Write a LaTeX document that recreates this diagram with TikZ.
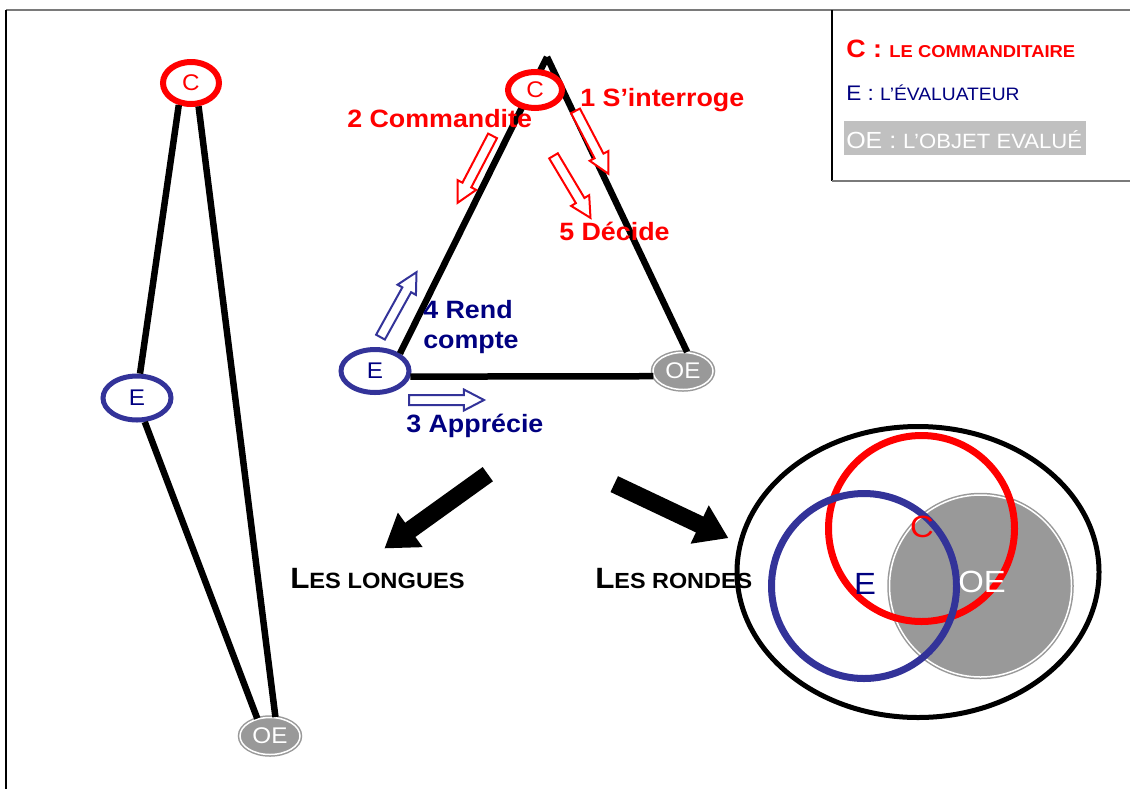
\documentclass[tikz,border=0pt]{standalone}
\usepackage{fontspec}
\setmainfont{Liberation Sans}[FakeStretch=1.07]
\usetikzlibrary{shapes.geometric,shapes.arrows}
\definecolor{cred}{HTML}{FF0000}
\definecolor{cnavy}{HTML}{000080}
\definecolor{cblue}{HTML}{333399}
\definecolor{cgray}{HTML}{999999}
\definecolor{clgray}{HTML}{C0C0C0}
\definecolor{cframe}{HTML}{7A7A7A}
\newcommand{\fsz}[1]{\fontsize{#1}{#1}\selectfont}
\begin{document}
\begin{tikzpicture}[x=0.75pt,y=-0.75pt,
  lbl/.style={anchor=base west, inner sep=0pt},
  redtxt/.style={lbl, text=cred, font=\bfseries\fsz{18.8}},
  navytxt/.style={lbl, text=cnavy, font=\bfseries\fsz{18.8}},
  cnode/.style={ellipse, draw=cred, line width=6*0.75pt, fill=white, text=cred, font=\fsz{17}, inner sep=0pt},
  enode/.style={ellipse, draw=cblue, line width=5*0.75pt, fill=white, text=cnavy, font=\fsz{17}, inner sep=0pt},
  oenode/.style={ellipse, draw=cgray, fill=cgray, double=white, double distance=1.5*0.75pt, line width=1.5*0.75pt, text=white, font=\fsz{17}, inner sep=0pt},
  edgeline/.style={line width=6.5*0.75pt, black},
  hollow/.style={single arrow, draw=#1, fill=white, line width=2*0.75pt, minimum width=0pt, inner xsep=0pt, inner ysep=4*0.75pt, single arrow head extend=5.5*0.75pt, single arrow tip angle=55, anchor=tail},
  bigarrow/.style={single arrow, fill=black, minimum width=0pt, inner xsep=0pt, inner ysep=8.5*0.75pt, single arrow head extend=12.5*0.75pt, single arrow tip angle=68, anchor=tail}
]
\useasboundingbox (0,0) rectangle (1130,789);
% frame
\draw[cframe, line width=2*0.75pt] (6,10) -- (1130,10);
\draw[black, line width=1.5*0.75pt] (6,10) -- (6,789);
% legend
\draw[black, line width=1.5*0.75pt] (832,10) -- (832,181);
\draw[cframe, line width=2*0.75pt] (832,181) -- (1130,181);
\node[lbl, text=cred, font=\bfseries] (legC) at (846,57) {\fsz{18.8}C : \fsz{12.9}LE COMMANDITAIRE};
\node[lbl, text=cnavy] (legE) at (846,100) {\fsz{15.8}E : \fsz{13.5}L’ÉVALUATEUR};
\fill[clgray] (844,121) rectangle (1086,155);
\node[lbl, text=white] (legO) at (846,148) {\fsz{17.5}OE : \fsz{15.5}L’OBJET EVALUÉ};

% left "longues" diagram
\node[cnode, minimum width=56*0.75pt, minimum height=42*0.75pt] (C1) at (191,83) {C};
\node[enode, minimum width=68*0.75pt, minimum height=44*0.75pt] (E1) at (137,398) {E};
\node[oenode, minimum width=60*0.75pt, minimum height=37*0.75pt] (OE1) at (270,736) {OE};
\draw[edgeline] (C1.241) -- (E1.83);
\draw[edgeline] (C1.288) -- (OE1.74);
\draw[edgeline] (E1.-72) -- (OE1.126);

% triangle
\coordinate (apex) at (547,57);
\node[enode, minimum width=68*0.75pt, minimum height=43*0.75pt] (E2) at (375,371) {E};
\node[oenode, minimum width=60*0.75pt, minimum height=37*0.75pt] (OE2) at (683,371) {OE};
\draw[edgeline] (apex) -- (E2.35);
\draw[edgeline] (apex) -- (OE2.78);
\draw[edgeline] (E2.-9) -- (OE2.190);
\node[cnode, minimum width=54*0.75pt, minimum height=36*0.75pt] (C2) at (535,90) {C};

% hollow arrows
\node[hollow=cred, minimum height=71*0.75pt, rotate=-62.4] (a1) at (575,110) {};
\node[hollow=cred, minimum height=75.6*0.75pt, rotate=-117.6] (a2) at (493,135) {};
\node[hollow=cred, minimum height=72.2*0.75pt, rotate=-59.2] (a5) at (553,155) {};
\node[hollow=cblue, minimum height=74.3*0.75pt, rotate=61] (a4) at (380,338) {};
\node[hollow=cblue, minimum height=75*0.75pt, rotate=0] (a3) at (408,400) {};

% labels
\node[redtxt] (t1) at (580,106) {1 S’interroge};
\node[redtxt] (t2) at (347,127) {2 Commandite};
\node[redtxt] (t5) at (559,240) {5 Décide};
\node[navytxt] (t4a) at (423,318) {4 Rend};
\node[navytxt] (t4b) at (423,348) {compte};
\node[navytxt] (t3) at (406,432) {3 Apprécie};

% big arrows
\node[bigarrow, minimum height=127*0.75pt, rotate=215.7] (bl) at (488,474) {};
\node[bigarrow, minimum height=126*0.75pt, rotate=-25.3] (br) at (614,484) {};
\node[lbl, font=\bfseries] (longues) at (290,588) {\fsz{22}L\fsz{16.6}ES LONGUES};

% right "rondes" diagram
\draw[line width=5*0.75pt] (918,572) ellipse [x radius=181, y radius=145.5];
\node[lbl, font=\bfseries] (rondes) at (595,588) {\fsz{22}L\fsz{16.4}ES RONDES};
\draw[cgray, fill=cgray, double=white, double distance=1.5*0.75pt, line width=1.5*0.75pt] (980.5,586) circle [radius=91];
\draw[cred, line width=7*0.75pt] (921.5,528.5) circle [radius=93];
\draw[cblue, line width=7*0.75pt] (864,586) circle [radius=92.5];
\node[text=cred, font=\fsz{23}] (rC) at (922,527) {C};
\node[text=cnavy, font=\fsz{23}] (rE) at (865,584) {E};
\node[text=white, font=\fsz{23}] (rOE) at (982,582) {OE};
\end{tikzpicture}
\end{document}
